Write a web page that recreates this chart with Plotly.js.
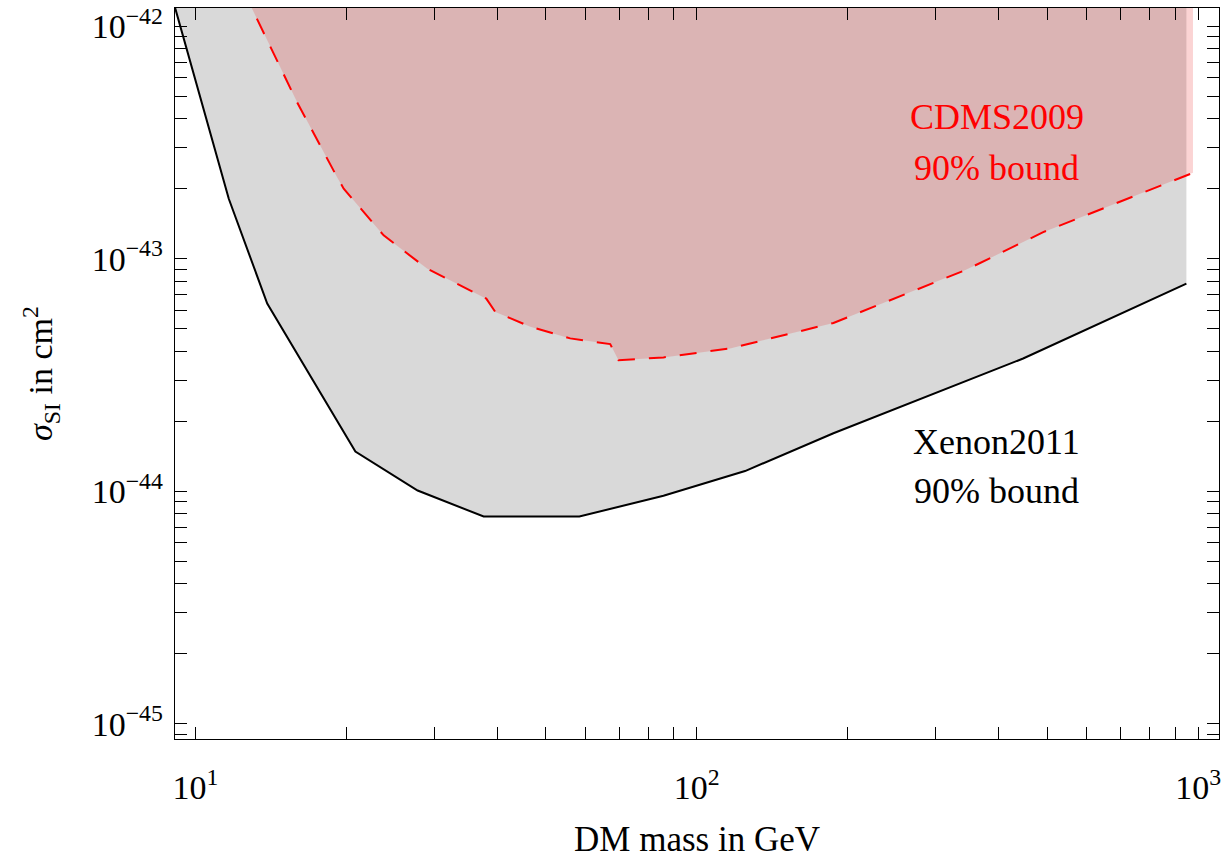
<!DOCTYPE html>
<html>
<head>
<meta charset="utf-8">
<script src="https://cdn.plot.ly/plotly-3.0.1.min.js"></script>
<style>
html,body{margin:0;padding:0;background:#ffffff;}
#chart{width:1222px;height:859px;}
</style>
</head>
<body>
<div id="chart"></div>
<script>
// ---- Data ----
// Xenon2011 90% bound (black, solid) : DM mass [GeV] vs sigma_SI [cm^2]
const xenonMass  = [9.0, 11.65, 13.9, 20.84, 27.74, 37.56, 58.3, 85.8, 124.8, 187.3, 447.7, 947.7];
const xenonSigma = [1.31e-42, 1.81e-43, 6.41e-44, 1.48e-44, 1.006e-44, 7.78e-45, 7.78e-45, 9.55e-45, 1.22e-44, 1.774e-44, 3.72e-44, 7.81e-44];

// CDMS2009 90% bound (red, dashed)
const cdmsMass  = [12.46, 15.95, 19.16, 19.75, 23.73, 28.96, 38.02, 39.63, 46.53, 55.9, 67.18, 69.8, 85.8, 116.5, 187.3, 345.2, 490.9, 976.8];
const cdmsSigma = [1.42e-42, 4.70e-43, 2.24e-43, 2.00e-43, 1.259e-43, 9.06e-44, 6.73e-44, 5.90e-44, 5.10e-44, 4.54e-44, 4.29e-44, 3.66e-44, 3.76e-44, 4.11e-44, 5.29e-44, 8.97e-44, 1.30e-43, 2.34e-43];

// Tick labels
const xTickVals   = [10, 100, 1000];
const xTickLabels = ['10<sup>1</sup>', '10<sup>2</sup>', '10<sup>3</sup>'];
const yTickVals   = [1e-45, 1e-44, 1e-43, 1e-42];
const yTickLabels = ['10<sup>−45</sup>', '10<sup>−44</sup>', '10<sup>−43</sup>', '10<sup>−42</sup>'];
const minorMultipliers = [2, 3, 4, 5, 6, 7, 8, 9];
const xMinorDecades = [1, 2];
const yMinorDecades = [-46, -45, -44, -43];

// Text labels
const labelTexts  = ['CDMS2009', '90% bound', 'Xenon2011', '90% bound'];
const labelColors = ['#ff0000', '#ff0000', '#000000', '#000000'];

// ---- Build ----
const X_RANGE = [Math.log10(9.1), 3.0417];
const Y_RANGE = [-45.066, -41.922];
const CEIL = 1e-40; // well above the visible area, for the "excluded above" fills

function minorVals(decades, range) {
  const out = [];
  decades.forEach(d => minorMultipliers.forEach(m => {
    const v = m * Math.pow(10, d);
    const l = Math.log10(v);
    if (l > range[0] && l < range[1]) out.push(v);
  }));
  return out;
}
const xMinor = minorVals(xMinorDecades, X_RANGE);
const yMinor = minorVals(yMinorDecades, Y_RANGE);

function regionAbove(xs, ys) {
  return {
    x: xs.concat([xs[xs.length - 1], xs[0]]),
    y: ys.concat([CEIL, CEIL])
  };
}
const xenonRegion = regionAbove(xenonMass, xenonSigma);
const cdmsRegion  = regionAbove(cdmsMass, cdmsSigma);

const traces = [
  { x: xenonRegion.x, y: xenonRegion.y, type: 'scatter', mode: 'lines', fill: 'toself',
    fillcolor: '#d9d9d9', line: { width: 0, color: 'rgba(0,0,0,0)' }, hoverinfo: 'skip', name: 'Xenon2011 region' },
  { x: cdmsRegion.x, y: cdmsRegion.y, type: 'scatter', mode: 'lines', fill: 'toself',
    fillcolor: 'rgba(232,0,0,0.17)', line: { width: 0, color: 'rgba(0,0,0,0)' }, hoverinfo: 'skip', name: 'CDMS2009 region' },
  { x: xenonMass, y: xenonSigma, type: 'scatter', mode: 'lines',
    line: { color: '#000000', width: 2 }, name: 'Xenon2011' },
  { x: cdmsMass, y: cdmsSigma, type: 'scatter', mode: 'lines',
    line: { color: '#ff0000', width: 2, dash: '17px,14px' }, name: 'CDMS2009' }
];

const labelPos = [
  { x: 2.598, y: -42.3927 },
  { x: 2.598, y: -42.6112 },
  { x: 2.598, y: -43.7897 },
  { x: 2.598, y: -43.9987 }
];
const annotations = labelTexts.map((t, i) => ({
  text: t, x: labelPos[i].x, y: labelPos[i].y, xref: 'x', yref: 'y',
  showarrow: false, xanchor: 'center', yanchor: 'middle',
  font: { size: 36, color: labelColors[i] }
}));

const FONT = '"Liberation Serif", "Times New Roman", Times, serif';
const axisCommon = {
  type: 'log', showgrid: false, zeroline: false,
  showline: true, linecolor: '#000', linewidth: 1.3, mirror: 'ticks',
  ticks: 'inside', ticklen: 12, tickwidth: 1, tickcolor: '#000',
  tickmode: 'array', tickfont: { size: 34, family: FONT, color: '#000' }
};

const layout = {
  width: 1222, height: 859,
  margin: { l: 175, r: 3, t: 8, b: 120, pad: 0 },
  paper_bgcolor: '#ffffff', plot_bgcolor: '#ffffff',
  showlegend: false,
  font: { family: FONT, size: 34, color: '#000' },
  xaxis: Object.assign({}, axisCommon, {
    range: X_RANGE, tickvals: xTickVals, ticktext: xTickLabels,
    ticklabelstandoff: 18,
    minor: { tickmode: 'array', tickvals: xMinor, ticks: 'inside', ticklen: 12, tickwidth: 1, tickcolor: '#000', showgrid: false },
    title: { text: 'DM mass in GeV', font: { size: 35, family: FONT, color: '#000' }, standoff: 31 }
  }),
  yaxis: Object.assign({}, axisCommon, {
    range: Y_RANGE, tickvals: yTickVals, ticktext: yTickLabels,
    ticklabelstandoff: 4,
    minor: { tickmode: 'array', tickvals: yMinor, ticks: 'inside', ticklen: 12, tickwidth: 1, tickcolor: '#000', showgrid: false },
    title: { text: '<i>σ</i><sub>SI</sub> in cm<sup>2</sup>', font: { size: 34, family: FONT, color: '#000' }, standoff: 28 }
  }),
  annotations: annotations
};

Plotly.newPlot('chart', traces, layout, { staticPlot: true, displayModeBar: false });
</script>
</body>
</html>
